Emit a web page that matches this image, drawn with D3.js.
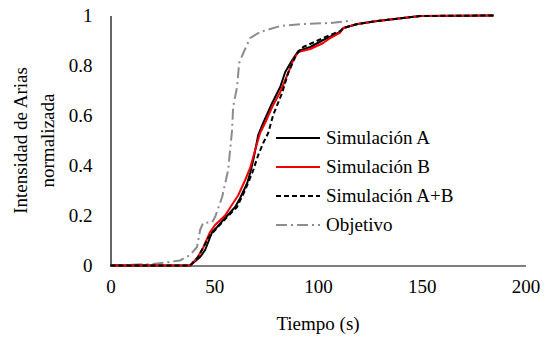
<!DOCTYPE html>
<html>
<head>
<meta charset="utf-8">
<script src="https://cdn.jsdelivr.net/npm/d3@7/dist/d3.min.js"></script>
<style>
  body { margin: 0; background: #fff; }
  svg { display: block; }
  text { font-family: "Liberation Serif", "Times New Roman", serif; fill: #000; }
</style>
</head>
<body>
<script>
// Normalised Arias intensity curves vs. time
const simA_t = [0, 38.4, 43.2, 45.6, 49.0, 51.4, 54.3, 60.1, 62.5, 65.9, 67.3, 68.8, 71.2, 73.6, 77.9, 81.8, 84.2, 87.6, 90.5, 96.3, 102.5, 110.7, 112.2, 119, 128.6, 141, 149.3, 184.6];
const simA_v = [0, 0, 0.034, 0.062, 0.134, 0.154, 0.182, 0.234, 0.27, 0.33, 0.37, 0.422, 0.522, 0.57, 0.65, 0.714, 0.774, 0.822, 0.858, 0.874, 0.902, 0.934, 0.95, 0.966, 0.978, 0.99, 0.998, 1];

const simB_t = [0, 38.4, 41.8, 44.6, 48.0, 50.4, 55.2, 59.1, 61.5, 64.9, 67.3, 69.7, 72.1, 74.5, 77.9, 81.8, 85.2, 88.1, 90.5, 96.3, 102.5, 105.9, 110.7, 112.2, 119, 128.6, 141, 149.3, 184.6];
const simB_v = [0, 0, 0.03, 0.07, 0.134, 0.162, 0.2, 0.25, 0.28, 0.342, 0.39, 0.462, 0.53, 0.57, 0.634, 0.694, 0.762, 0.822, 0.854, 0.866, 0.89, 0.91, 0.932, 0.95, 0.966, 0.978, 0.99, 0.998, 1];

const simAB_t = [0, 38.4, 42.2, 45.1, 47.0, 50.4, 56.2, 61.0, 64.9, 68.3, 71.2, 73.6, 76.0, 78.4, 82.7, 85.6, 89.0, 90.5, 92.9, 97.2, 102.5, 110.7, 112.2, 119, 128.6, 141, 149.3, 184.6];
const simAB_v = [0, 0, 0.034, 0.078, 0.11, 0.142, 0.194, 0.234, 0.302, 0.37, 0.442, 0.49, 0.53, 0.602, 0.69, 0.77, 0.834, 0.854, 0.874, 0.89, 0.91, 0.938, 0.95, 0.966, 0.978, 0.99, 0.998, 1];

const obj_t = [0, 20.5, 33.5, 38.4, 41.7, 43.2, 44.6, 49.0, 50.4, 53.8, 56.7, 58.6, 59.1, 61.0, 62.0, 64.0, 67.3, 72.1, 81.8, 92.9, 105.9, 116.5];
const obj_v = [0, 0.006, 0.02, 0.042, 0.074, 0.142, 0.17, 0.174, 0.194, 0.274, 0.382, 0.542, 0.634, 0.714, 0.81, 0.85, 0.91, 0.934, 0.958, 0.966, 0.97, 0.98];

const xTicks = [0, 50, 100, 150, 200];
const yTicks = [0, 0.2, 0.4, 0.6, 0.8, 1];
const seriesNames = ["Simulación A", "Simulación B", "Simulación A+B", "Objetivo"];

const W = 545, H = 339;
const margin = { left: 110.5, right: 19.5, top: 15.5, bottom: 73.5 };

const svg = d3.select("body").append("svg").attr("width", W).attr("height", H);

const x = d3.scaleLinear().domain([0, 200]).range([margin.left, W - margin.right]);
const y = d3.scaleLinear().domain([0, 1]).range([H - margin.bottom, margin.top]);

const series = [
  { name: seriesNames[2], t: simAB_t, v: simAB_v, color: "#000", width: 2, dash: "5,3" },
  { name: seriesNames[0], t: simA_t, v: simA_v, color: "#000", width: 2, dash: null },
  { name: seriesNames[1], t: simB_t, v: simB_v, color: "#f00000", width: 2, dash: null },
  { name: seriesNames[3], t: obj_t, v: obj_v, color: "#8c8c8c", width: 2, dash: "11,4,2,4" }
];

// Axes (lines only, no tick marks)
const xAxis = d3.axisBottom(x).tickValues(xTicks).tickSize(0).tickPadding(14).tickFormat(d3.format("d"));
const yAxis = d3.axisLeft(y).tickValues(yTicks).tickSize(0).tickPadding(18).tickFormat(d => d === 0 || d === 1 ? String(d) : d3.format(".1f")(d));

const gx = svg.append("g").attr("transform", `translate(0,${y(0)})`).call(xAxis);
const gy = svg.append("g").attr("transform", `translate(${x(0)},0)`).call(yAxis);
[gx, gy].forEach(g => {
  g.select(".domain").attr("stroke", "#000").attr("stroke-width", 1.2);
  g.selectAll("text").style("font-family", '"Liberation Serif", serif').style("font-size", "19px").attr("fill", "#000");
});

// Curves
const line = d3.line().x(d => x(d[0])).y(d => y(d[1]));
const order = [3, 1, 2, 0];
order.forEach(i => {
  const s = series[i];
  svg.append("path")
    .datum(d3.zip(s.t, s.v))
    .attr("d", line)
    .attr("fill", "none")
    .attr("stroke", s.color)
    .attr("stroke-width", s.width)
    .attr("stroke-dasharray", s.dash)
    .attr("stroke-linejoin", "round");
});

// Legend
const legendItems = [series[1], series[2], series[0], series[3]];
const lg = svg.append("g").attr("transform", "translate(276,138)");
legendItems.forEach((s, i) => {
  const g = lg.append("g").attr("transform", `translate(0,${i * 29})`);
  g.append("line").attr("x1", 0).attr("x2", 44).attr("y1", 0).attr("y2", 0)
    .attr("stroke", s.color).attr("stroke-width", s.width).attr("stroke-dasharray", s.dash);
  g.append("text").attr("x", 50).attr("y", 0).attr("dy", "0.33em")
    .style("font-size", "19px").text(s.name);
});

// Axis titles
svg.append("text").attr("x", (x(0) + x(200)) / 2).attr("y", 330)
  .attr("text-anchor", "middle").style("font-size", "19px").text("Tiempo (s)");

const yt = svg.append("text").attr("transform", `translate(20,${(y(0) + y(1)) / 2}) rotate(-90)`)
  .attr("text-anchor", "middle").style("font-size", "19px");
yt.append("tspan").attr("x", 0).attr("dy", "0.35em").text("Intensidad de Arias");
yt.append("tspan").attr("x", 0).attr("dy", "1.42em").text("normalizada");
</script>
</body>
</html>
